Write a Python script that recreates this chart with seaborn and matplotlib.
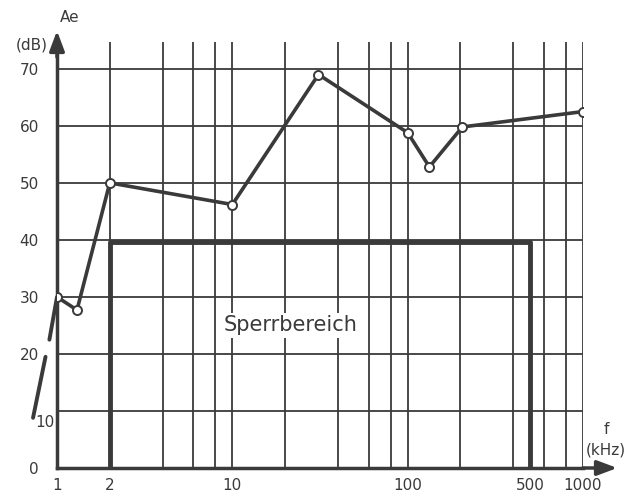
import numpy as np
import matplotlib.pyplot as plt
import seaborn as sns
import pandas as pd

# attenuation curve (kHz, dB)
freq = [1, 1.3, 2, 10, 31, 100, 133, 205, 1000]
atten = [30, 27.7, 50, 46.2, 69, 58.8, 52.8, 59.8, 62.5]
# continuation below 1 kHz, drawn as two broken strokes
ext1_freq = [1, 0.905]
ext1_atten = [30, 22.5]
ext2_freq = [0.86, 0.73]
ext2_atten = [19.5, 8.8]
# blocking region
block_f = [2, 2, 500, 500]
block_a = [0, 39.7, 39.7, 0]

grid_x = [1, 2, 4, 6, 8, 10, 20, 40, 60, 80, 100, 200, 400, 600, 800, 1000]
grid_y = [10, 20, 30, 40, 50, 60, 70]
xtick_vals = [1, 2, 10, 100, 500, 1000]
ytick_vals = [0, 10, 20, 30, 40, 50, 60, 70]

sns.set_style("white")
plt.rcParams['font.family'] = ['DejaVu Sans']
ink = '#3a3a3a'

fig = plt.figure(figsize=(6.39, 4.97), dpi=100)
ax = fig.add_axes([57/639, 1 - 468/497, (583 - 57)/639, (468 - 42)/497])
ax.set_xscale('log')
ax.set_xlim(1, 1000)
ax.set_ylim(0, 74.7)

for gx in grid_x:
    ax.axvline(gx, color=ink, lw=1.3, zorder=1)
for gy in grid_y:
    ax.axhline(gy, color=ink, lw=1.3, zorder=1)

df = pd.DataFrame({'f': freq, 'a': atten})
sns.lineplot(data=df, x='f', y='a', ax=ax, color=ink, lw=2.6, marker='o',
             markersize=6.5, markerfacecolor='white', markeredgecolor=ink,
             markeredgewidth=1.4, zorder=5)
ax.plot(ext1_freq, ext1_atten, color=ink, lw=2.8, clip_on=False, zorder=4)
ax.plot(ext2_freq, ext2_atten, color=ink, lw=2.8, clip_on=False, zorder=4)
ax.plot(block_f, block_a, color=ink, lw=3.5, zorder=3, solid_capstyle='butt')

ax.text(21.5, 25, 'Sperrbereich', fontsize=15, color=ink, ha='center', va='center',
        bbox=dict(facecolor='white', edgecolor='none', pad=2), zorder=4)

for s in ['top', 'right']:
    ax.spines[s].set_visible(False)
for s in ['left', 'bottom']:
    ax.spines[s].set_linewidth(2.5)
    ax.spines[s].set_color(ink)

ax.set_xticks(xtick_vals)
ax.set_xticklabels([str(v) for v in xtick_vals])
ax.xaxis.set_minor_locator(plt.NullLocator())
ax.set_yticks(ytick_vals)
ax.set_yticklabels(['0', '', '20', '30', '40', '50', '60', '70'])
ax.tick_params(axis='both', direction='out', length=10, width=1.3, color=ink,
               labelcolor=ink, labelsize=11, pad=3)
ax.tick_params(axis='x', length=5, pad=2)
ax.text(0.97, 7.9, '10', fontsize=11, color=ink, ha='right', va='center')
ax.set_xlabel('')
ax.set_ylabel('')

# axis arrows
ax.annotate('', xy=(57/639, 1 - 28/497), xytext=(57/639, 1 - 60/497),
            xycoords='figure fraction',
            arrowprops=dict(arrowstyle='-|>,head_length=1.2,head_width=0.45', color=ink, lw=2.5))
ax.annotate('', xy=(620/639, 1 - 468/497), xytext=(580/639, 1 - 468/497),
            xycoords='figure fraction',
            arrowprops=dict(arrowstyle='-|>,head_length=1.2,head_width=0.45', color=ink, lw=2.5))

fig.text(60/639, 1 - 18/497, 'Ae', fontsize=11, color=ink, ha='left', va='center')
fig.text(48/639, 1 - 45/497, '(dB)', fontsize=11, color=ink, ha='right', va='center')
fig.text(606/639, 1 - 430/497, 'f', fontsize=11, color=ink, ha='center', va='center')
fig.text(606/639, 1 - 450/497, '(kHz)', fontsize=11, color=ink, ha='center', va='center')

fig.savefig('out.png', dpi=100, facecolor='white')
